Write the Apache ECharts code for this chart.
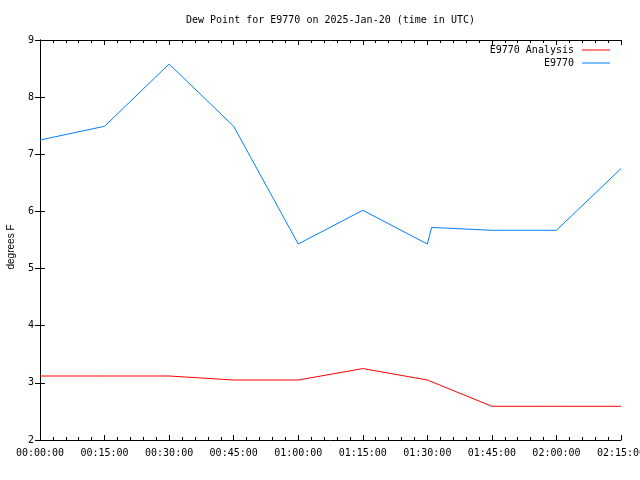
<!DOCTYPE html>
<html>
<head>
<meta charset="utf-8">
<script src="https://cdn.jsdelivr.net/npm/echarts@6/dist/echarts.min.js"></script>
<style>html,body{margin:0;padding:0;background:#fff}#c{width:640px;height:480px}</style>
</head>
<body>
<div id="c"></div>
<script>
var titleText = 'Dew Point for E9770 on 2025-Jan-20 (time in UTC)';
var yName = 'degrees F';
var seriesNames = ['E9770 Analysis', 'E9770'];
var analysisTimes = ['00:00','00:15','00:30','00:45','01:00','01:15','01:30','01:45','02:00','02:15'];
var analysisValues = [3.12,3.12,3.12,3.05,3.05,3.25,3.05,2.59,2.59,2.59];
var obsTimes = ['00:00','00:15','00:30','00:45','01:00','01:15','01:30','01:31','01:45','02:00','02:15'];
var obsValues = [7.25,7.49,8.58,7.49,5.43,6.02,5.43,5.72,5.67,5.67,6.75];
var xMin = 0, xMax = 135, xStep = 15;
var yMin = 2, yMax = 9, yStep = 1;

function toMin(t){var p=t.split(':');return (+p[0])*60+(+p[1]);}
function pair(ts, vs){return ts.map(function(t,i){return [toMin(t), vs[i]];});}
function fmt(m){var h=Math.floor(m/60),mm=Math.round(m%60);return (h<10?'0':'')+h+':'+(mm<10?'0':'')+mm+':00';}

var mono = 'DejaVu Sans Mono';
var tickStyle = {show:true, inside:true, length:5, lineStyle:{color:'#000',width:1}};
var minorStyle = {show:true, splitNumber:5, length:3, lineStyle:{color:'#000',width:1}};
var lineAx = {show:true, lineStyle:{color:'#000',width:1}};

var chart = echarts.init(document.getElementById('c'), null, {renderer:'canvas'});
chart.setOption({
  animation:false,
  backgroundColor:'#fff',
  title:{text:titleText, left:181, top:10, textStyle:{fontFamily:mono, fontSize:10, fontWeight:'normal', color:'#000'}},
  legend:[
    {data:[seriesNames[0]], right:25, top:40, orient:'vertical', align:'right', itemWidth:28, itemHeight:1, icon:'rect',
     itemStyle:{color:'#ff0000'}, textStyle:{fontFamily:mono, fontSize:10, color:'#000', padding:[0,3,0,0]}},
    {data:[seriesNames[1]], right:25, top:53, orient:'vertical', align:'right', itemWidth:28, itemHeight:1, icon:'rect',
     itemStyle:{color:'#0080ff'}, textStyle:{fontFamily:mono, fontSize:10, color:'#000', padding:[0,3,0,0]}}
  ],
  grid:{left:40, right:19, top:40, bottom:40, containLabel:false, outerBoundsMode:'none'},
  xAxis:[
    {type:'value', min:xMin, max:xMax, interval:xStep, position:'bottom',
     axisLine:lineAx, axisTick:tickStyle, minorTick:minorStyle, splitLine:{show:false},
     axisLabel:{formatter:fmt, fontFamily:mono, fontSize:10, color:'#000', margin:8, showMaxLabel:true, hideOverlap:false}},
    {type:'value', min:xMin, max:xMax, interval:xStep, position:'top',
     axisLine:lineAx, axisTick:tickStyle, minorTick:minorStyle, splitLine:{show:false}, axisLabel:{show:false}}
  ],
  yAxis:[
    {type:'value', min:yMin, max:yMax, interval:yStep, position:'left',
     name:yName, nameLocation:'middle', nameGap:24, nameRotate:90,
     nameTextStyle:{fontFamily:'Liberation Sans', fontSize:10, color:'#000', padding:[0,0,0,-14]},
     axisLine:lineAx, axisTick:tickStyle, splitLine:{show:false},
     axisLabel:{fontFamily:mono, fontSize:10, color:'#000', margin:6}},
    {type:'value', min:yMin, max:yMax, interval:yStep, position:'right',
     axisLine:lineAx, axisTick:tickStyle, splitLine:{show:false}, axisLabel:{show:false}}
  ],
  series:[
    {name:seriesNames[0], type:'line', xAxisIndex:0, yAxisIndex:0, data:pair(analysisTimes, analysisValues),
     symbol:'none', lineStyle:{color:'#ff0000', width:1}, itemStyle:{color:'#ff0000'}},
    {name:seriesNames[1], type:'line', xAxisIndex:0, yAxisIndex:0, data:pair(obsTimes, obsValues),
     symbol:'none', lineStyle:{color:'#0080ff', width:1}, itemStyle:{color:'#0080ff'}}
  ]
});
</script>
</body>
</html>
